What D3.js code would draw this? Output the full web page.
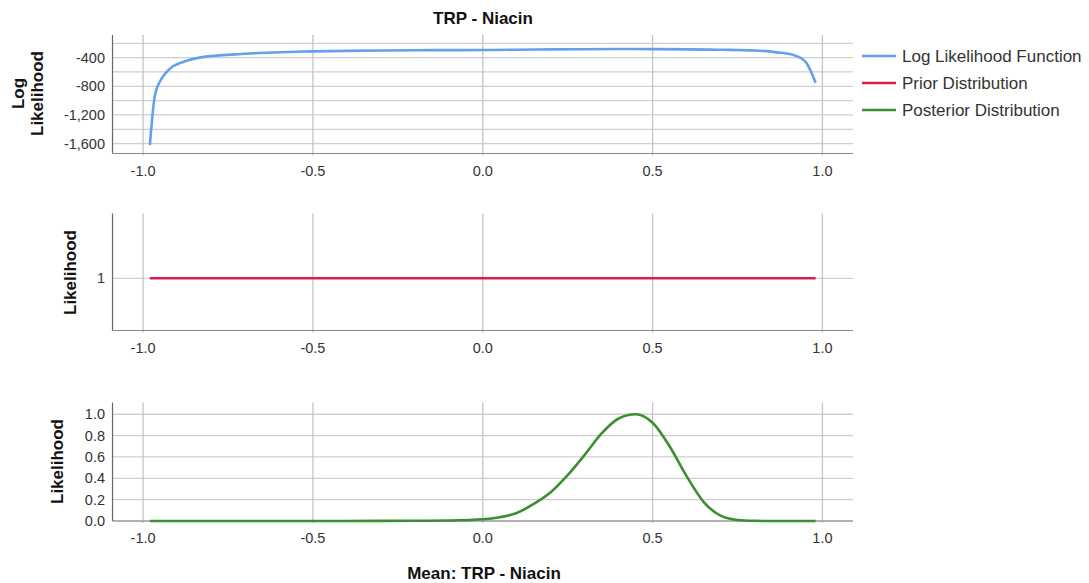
<!DOCTYPE html>
<html>
<head>
<meta charset="utf-8">
<script src="https://cdn.jsdelivr.net/npm/d3@7"></script>
<style>
  body { margin: 0; background: #fff; }
  text { font-family: "Liberation Sans", Arial, sans-serif; fill: #222; }
  .tick-label { font-size: 14.5px; fill: #333; }
  .axis-title { font-size: 17px; font-weight: bold; fill: #111; }
  .legend-label { font-size: 17px; fill: #333; }
</style>
</head>
<body>
<div id="app"></div>
<script>
// DATA ----------------------------------------------------------
var chartTitle = "TRP - Niacin";
var xTitle = "Mean: TRP - Niacin";

var xTicks = [-1.0, -0.5, 0.0, 0.5, 1.0];
var xTickLabels = ["-1.0", "-0.5", "0.0", "0.5", "1.0"];

// log likelihood (top panel)
var llX = [-0.98, -0.965, -0.945, -0.92, -0.88, -0.83, -0.73, -0.635, -0.55, -0.5, -0.4, -0.3, -0.2, -0.1, 0.0, 0.1, 0.2, 0.3, 0.4, 0.5, 0.6, 0.7, 0.8, 0.865, 0.915, 0.95, 0.98];
var llY = [-1622, -923, -690, -550, -457, -396, -354, -331, -317, -312, -305, -300, -296, -295, -294, -290, -285, -282, -280, -281, -284, -290, -300, -326, -364, -457, -751];
var llGrid = [-1600, -1400, -1200, -1000, -800, -600, -400, -200];
var llTicks = [-1600, -1200, -800, -400];
var llTickLabels = ["-1,600", "-1,200", "-800", "-400"];

// prior (middle panel)
var priorX = [-0.98, 0.98];
var priorY = [1, 1];
var priorTicks = [1];
var priorTickLabels = ["1"];

// posterior (bottom panel)
var postX = [-0.98, -0.6, -0.4, -0.3, -0.2, -0.1, 0.0, 0.05, 0.1, 0.15, 0.2, 0.25, 0.3, 0.35, 0.4, 0.45, 0.5, 0.55, 0.6, 0.65, 0.7, 0.75, 0.8, 0.85, 0.9, 0.98];
var postY = [0, 0, 0.0005, 0.001, 0.002, 0.005, 0.016, 0.035, 0.075, 0.16, 0.27, 0.43, 0.62, 0.82, 0.96, 1.0, 0.92, 0.70, 0.42, 0.18, 0.05, 0.01, 0.002, 0, 0, 0];
var postTicks = [0, 0.2, 0.4, 0.6, 0.8, 1.0];
var postTickLabels = ["0.0", "0.2", "0.4", "0.6", "0.8", "1.0"];

var legendNames = ["Log Likelihood Function", "Prior Distribution", "Posterior Distribution"];
var colors = ["#65a0ea", "#d81e4a", "#3b8f30"];

// LAYOUT --------------------------------------------------------
var width = 1089, height = 583;
var left = 112.5, right = 853;

var x = d3.scaleLinear().domain([-1.09, 1.09]).range([left, right]);

var svg = d3.select("#app").append("svg")
  .attr("width", width)
  .attr("height", height);

function zip(a, b) { return a.map(function(d, i) { return [d, b[i]]; }); }

function drawPanel(cfg) {
  var y = d3.scaleLinear().domain(cfg.domain).range([cfg.bottom, cfg.top]);
  var g = svg.append("g");

  // horizontal grid
  g.selectAll(".hgrid").data(cfg.grid).enter().append("line")
    .attr("x1", left).attr("x2", right)
    .attr("y1", function(d) { return y(d); })
    .attr("y2", function(d) { return y(d); })
    .attr("stroke", "#cfcfcf").attr("stroke-width", 1.3);

  // vertical grid
  g.selectAll(".vgrid").data(xTicks).enter().append("line")
    .attr("x1", function(d) { return x(d); })
    .attr("x2", function(d) { return x(d); })
    .attr("y1", cfg.top).attr("y2", cfg.bottom + 2)
    .attr("stroke", "#c4c4c4").attr("stroke-width", 1.3);

  // axis lines
  g.append("line").attr("x1", left).attr("x2", left)
    .attr("y1", cfg.top).attr("y2", cfg.bottom)
    .attr("stroke", "#666").attr("stroke-width", 1.2);
  g.append("line").attr("x1", left).attr("x2", right)
    .attr("y1", cfg.bottom).attr("y2", cfg.bottom)
    .attr("stroke", "#888").attr("stroke-width", 1.2);

  // y tick labels
  g.selectAll(".ylab").data(cfg.ticks).enter().append("text")
    .attr("class", "tick-label")
    .attr("x", 105)
    .attr("y", function(d) { return y(d); })
    .attr("dy", "0.35em")
    .attr("text-anchor", "end")
    .text(function(d, i) { return cfg.tickLabels[i]; });

  // x tick labels
  g.selectAll(".xlab").data(xTicks).enter().append("text")
    .attr("class", "tick-label")
    .attr("x", function(d) { return x(d); })
    .attr("y", cfg.bottom + 17)
    .attr("dy", "0.35em")
    .attr("text-anchor", "middle")
    .text(function(d, i) { return xTickLabels[i]; });

  // the curve
  var line = d3.line()
    .x(function(d) { return x(d[0]); })
    .y(function(d) { return y(d[1]); })
    .curve(cfg.curve || d3.curveLinear);
  g.append("path")
    .datum(zip(cfg.xs, cfg.ys))
    .attr("d", line)
    .attr("fill", "none")
    .attr("stroke", cfg.color)
    .attr("stroke-width", 2.6)
    .attr("stroke-linejoin", "round");

  // y title (one or more lines)
  var t = g.append("text")
    .attr("class", "axis-title")
    .attr("text-anchor", "middle")
    .attr("transform", "translate(" + cfg.titleX + "," + cfg.titleY + ") rotate(-90)");
  cfg.title.forEach(function(s, i) {
    t.append("tspan").attr("x", 0)
      .attr("dy", i === 0 ? "0.35em" : "1.12em")
      .text(s);
  });
}

// top: log likelihood
drawPanel({
  top: 35, bottom: 153.5, domain: [-1738, -84],
  grid: llGrid, ticks: llTicks, tickLabels: llTickLabels,
  xs: llX, ys: llY, color: colors[0], curve: d3.curveMonotoneX,
  title: ["Log", "Likelihood"], titleX: 18, titleY: 93.5
});

// middle: prior
drawPanel({
  top: 213.5, bottom: 330.5, domain: [0.888, 1.139],
  grid: priorTicks, ticks: priorTicks, tickLabels: priorTickLabels,
  xs: priorX, ys: priorY, color: colors[1],
  title: ["Likelihood"], titleX: 70.5, titleY: 272.5
});

// bottom: posterior
drawPanel({
  top: 402.5, bottom: 521, domain: [0, 1.11],
  grid: postTicks, ticks: postTicks, tickLabels: postTickLabels,
  xs: postX, ys: postY, color: colors[2], curve: d3.curveMonotoneX,
  title: ["Likelihood"], titleX: 57.5, titleY: 461.5
});

// titles
svg.append("text").attr("class", "axis-title")
  .attr("x", 483).attr("y", 18.5).attr("dy", "0.35em")
  .attr("text-anchor", "middle").text(chartTitle);

svg.append("text").attr("class", "axis-title")
  .attr("x", 484).attr("y", 573).attr("dy", "0.35em")
  .attr("text-anchor", "middle").text(xTitle);

// legend
var leg = svg.append("g").selectAll("g").data(legendNames).enter().append("g")
  .attr("transform", function(d, i) { return "translate(862," + (56 + i * 27) + ")"; });
leg.append("line").attr("x1", 0).attr("x2", 34)
  .attr("stroke", function(d, i) { return colors[i]; })
  .attr("stroke-width", 2.6);
leg.append("text").attr("class", "legend-label")
  .attr("x", 40).attr("dy", "0.35em")
  .text(function(d) { return d; });
</script>
</body>
</html>
